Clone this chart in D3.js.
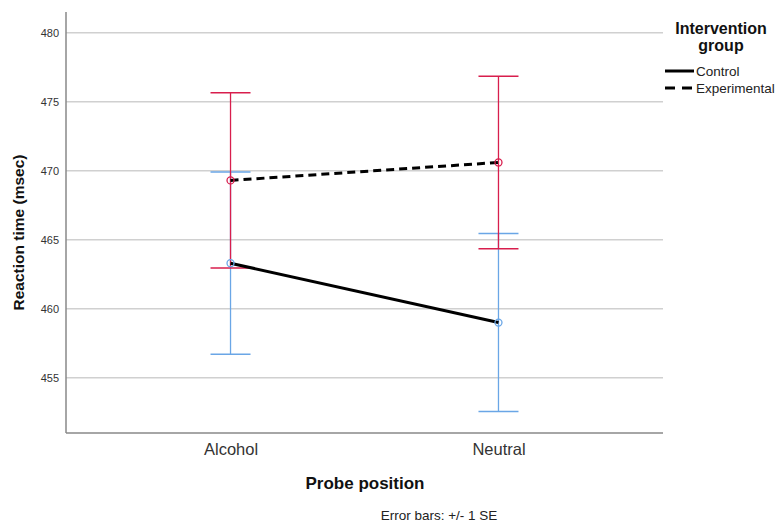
<!DOCTYPE html>
<html>
<head>
<meta charset="utf-8">
<script src="https://cdn.jsdelivr.net/npm/d3@7"></script>
<style>
  html, body { margin: 0; padding: 0; background: #fff; }
  svg { display: block; font-family: Arial, "Liberation Sans", sans-serif; }
</style>
</head>
<body>
<svg id="chart" width="775" height="522"></svg>
<script>
// Probe position categories
const categories = ["Alcohol", "Neutral"];
// Group means (msec)
const controlMeans = [463.3, 459.0];
const experimentalMeans = [469.3, 470.6];
// Standard errors (msec)
const controlSE = [6.6, 6.45];
const experimentalSE = [6.35, 6.25];
// Y-axis ticks
const yTicks = [455, 460, 465, 470, 475, 480];

const series = [
  { name: "Control", means: controlMeans, se: controlSE, color: "#6aa6e6", dash: null },
  { name: "Experimental", means: experimentalMeans, se: experimentalSE, color: "#d81e4d", dash: "8,5" }
];

const svg = d3.select("#chart");
const plotLeft = 66, plotRight = 663, plotTop = 12, plotBottom = 433;

const x = d3.scalePoint().domain(categories).range([plotLeft, plotRight]).padding(0.614);
const y = d3.scaleLinear().domain([451, 481.5]).range([plotBottom, plotTop]);

// Gridlines
svg.append("g").selectAll("line").data(yTicks).join("line")
  .attr("x1", plotLeft).attr("x2", plotRight)
  .attr("y1", d => y(d)).attr("y2", d => y(d))
  .attr("stroke", "#d0d0d0").attr("stroke-width", 1.5);

// Y axis
const yAxis = svg.append("g").attr("transform", `translate(${plotLeft},0)`)
  .call(d3.axisLeft(y).tickValues(yTicks).tickSize(0).tickPadding(7));
yAxis.select(".domain").remove();
yAxis.selectAll("text").attr("font-size", 11).attr("fill", "#333")
  .attr("font-family", "Arial, 'Liberation Sans', sans-serif");

// X axis
const xAxis = svg.append("g").attr("transform", `translate(0,${plotBottom})`)
  .call(d3.axisBottom(x).tickSize(0).tickPadding(10));
xAxis.select(".domain").remove();
xAxis.selectAll("text").attr("font-size", 16.5).attr("fill", "#333")
  .attr("font-family", "Arial, 'Liberation Sans', sans-serif");

// Axis lines
svg.append("line").attr("x1", plotLeft).attr("x2", plotLeft).attr("y1", plotTop).attr("y2", plotBottom)
  .attr("stroke", "#888").attr("stroke-width", 1.5);
svg.append("line").attr("x1", plotLeft).attr("x2", plotRight).attr("y1", plotBottom).attr("y2", plotBottom)
  .attr("stroke", "#888").attr("stroke-width", 1.5);

// Error bars
const capHalf = 20;
series.forEach(s => {
  const g = svg.append("g");
  categories.forEach((c, i) => {
    const cx = x(c), hi = y(s.means[i] + s.se[i]), lo = y(s.means[i] - s.se[i]);
    g.append("line").attr("x1", cx).attr("x2", cx).attr("y1", hi).attr("y2", lo)
      .attr("stroke", s.color).attr("stroke-width", 1.3);
    [hi, lo].forEach(yy => g.append("line")
      .attr("x1", cx - capHalf).attr("x2", cx + capHalf).attr("y1", yy).attr("y2", yy)
      .attr("stroke", s.color).attr("stroke-width", 1.5));
  });
});

// Mean lines
const line = d3.line().x((d, i) => x(categories[i])).y(d => y(d));
series.forEach(s => {
  svg.append("path").datum(s.means).attr("d", line)
    .attr("fill", "none").attr("stroke", "#000").attr("stroke-width", 3)
    .attr("stroke-dasharray", s.dash);
});

// Mean markers
series.forEach(s => {
  svg.append("g").selectAll("circle").data(s.means).join("circle")
    .attr("cx", (d, i) => x(categories[i])).attr("cy", d => y(d)).attr("r", 3.5)
    .attr("fill", "none").attr("stroke", s.color).attr("stroke-width", 1.3);
});

// Axis titles
svg.append("text").attr("transform", `translate(24,${(plotTop + plotBottom) / 2 + 10}) rotate(-90)`)
  .attr("text-anchor", "middle").attr("font-size", 15.5).attr("font-weight", "bold")
  .attr("fill", "#111").text("Reaction time (msec)");
svg.append("text").attr("x", 365).attr("y", 489)
  .attr("text-anchor", "middle").attr("font-size", 17).attr("font-weight", "bold")
  .attr("fill", "#111").text("Probe position");
svg.append("text").attr("x", 439).attr("y", 520)
  .attr("text-anchor", "middle").attr("font-size", 13.5).attr("fill", "#222")
  .text("Error bars: +/- 1 SE");

// Legend
const lg = svg.append("g");
lg.append("text").attr("x", 721).attr("y", 34).attr("text-anchor", "middle")
  .attr("font-size", 16).attr("font-weight", "bold").attr("fill", "#111").text("Intervention");
lg.append("text").attr("x", 721).attr("y", 51).attr("text-anchor", "middle")
  .attr("font-size", 16).attr("font-weight", "bold").attr("fill", "#111").text("group");
series.forEach((s, i) => {
  const yy = 71 + i * 17;
  lg.append("line").attr("x1", 665).attr("x2", 694).attr("y1", yy).attr("y2", yy)
    .attr("stroke", "#000").attr("stroke-width", 3).attr("stroke-dasharray", s.dash ? "10,7" : null);
  lg.append("text").attr("x", 696).attr("y", yy + 4.5).attr("font-size", 13.5)
    .attr("fill", "#222").text(s.name);
});
</script>
</body>
</html>
